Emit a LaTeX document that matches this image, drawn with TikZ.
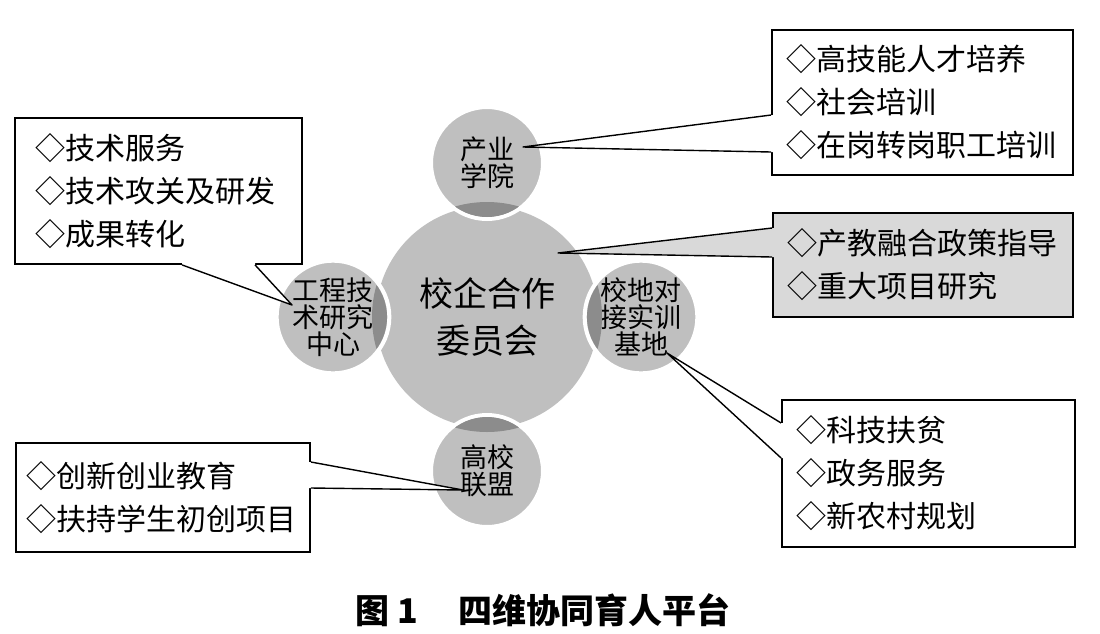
\documentclass[tikz,border=0pt]{standalone}
\usepackage{fontspec}
\newfontfamily\cjk{Noto Sans CJK SC}
\definecolor{disc}{gray}{0.75}
\definecolor{lens}{gray}{0.55}
\definecolor{panel}{gray}{0.85}

\begin{document}
\begin{tikzpicture}[x=1pt, y=-1pt, node distance={154pt},
  hub/.style = {circle, fill=disc, minimum size=222pt, inner sep=0pt, align=center, font=\cjk\fontsize{34}{47}\selectfont},
  sat/.style = {circle, fill=disc, draw=white, line width=4pt, minimum size=112pt, inner sep=0pt, align=center, font=\cjk\fontsize{27}{27}\selectfont},
  box/.style = {draw, line width=1.8pt, fill=white, align=left, inner xsep=14pt, font=\cjk\fontsize{30}{43}\selectfont},
  tail/.style = {line width=1.4pt, line join=round}]
\useasboundingbox (0,0) rectangle (1100,633);

% committee and its four satellites
\node[hub] (hub) at (487,317) {校企合作\\委员会};
\node[sat] (yard) [above of=hub] {产业\\学院};
\node[sat] (lab) [left of=hub] {工程技\\术研究\\中心};
\node[sat] (base) [right of=hub] {校地对\\接实训\\基地};
\node[sat] (league) [below of=hub] {高校\\联盟};
\begin{scope}
  \clip (hub.center) circle (115pt);
  \foreach \s in {yard, lab, base, league}
    \fill[lens] (\s.center) circle (54pt);
\end{scope}

% callout boxes
\node[box, text width=273pt, minimum height=145pt] (talent) at (922.5,102.5) {◇高技能人才培养\\◇社会培训\\◇在岗转岗职工培训};
\node[box, fill=panel, text width=272pt, minimum height=104pt] (policy) at (923,265) {◇产教融合政策指导\\◇重大项目研究};
\node[box, text width=265pt, minimum height=147pt] (rural) at (928.5,473.5) {◇科技扶贫\\◇政务服务\\◇新农村规划};
\node[box, inner xsep=20pt, text width=247pt, minimum height=146pt] (tech) at (158.5,191) {◇技术服务\\◇技术攻关及研发\\◇成果转化};
\node[box, inner xsep=11pt, text width=272pt, minimum height=109pt] (startup) at (163,497.5) {◇创新创业教育\\◇扶持学生初创项目};

% pointers
\coordinate (talenttip) at (523,147);
\coordinate (talenta) at ([yshift=-12.5pt]talent.west);
\coordinate (talentb) at ([yshift=-49.5pt]talent.west);
\fill[white] (talenta) -- (talenttip) -- (talentb) -- ([xshift=2.2pt]talentb) -- ([xshift=2.2pt]talenta) -- cycle;
\draw[tail] (talenta) -- (talenttip) -- (talentb);

\coordinate (policytip) at (558,253);
\coordinate (policya) at ([yshift=37pt]policy.west);
\coordinate (policyb) at ([yshift=8pt]policy.west);
\fill[panel] (policya) -- (policytip) -- (policyb) -- ([xshift=2.2pt]policyb) -- ([xshift=2.2pt]policya) -- cycle;
\draw[tail] (policya) -- (policytip) -- (policyb);

\coordinate (ruraltip) at (667,353);
\coordinate (rurala) at ([yshift=50.5pt]rural.west);
\coordinate (ruralb) at ([yshift=15.5pt]rural.west);
\fill[white] (rurala) -- (ruraltip) -- (ruralb) -- ([xshift=2.2pt]ruralb) -- ([xshift=2.2pt]rurala) -- cycle;
\draw[tail] (rurala) -- (ruraltip) -- (ruralb);

\coordinate (techtip) at (292,305);
\coordinate (techa) at ([xshift=23.5pt]tech.south);
\coordinate (techb) at ([xshift=96.5pt]tech.south);
\fill[white] (techa) -- (techtip) -- (techb) -- ([yshift=2.2pt]techb) -- ([yshift=2.2pt]techa) -- cycle;
\draw[tail] (techa) -- (techtip) -- (techb);

\coordinate (startuptip) at (463,490);
\coordinate (startupa) at ([yshift=35.5pt]startup.east);
\coordinate (startupb) at ([yshift=9.5pt]startup.east);
\fill[white] (startupa) -- (startuptip) -- (startupb) -- ([xshift=-2.2pt]startupb) -- ([xshift=-2.2pt]startupa) -- cycle;
\draw[tail] (startupa) -- (startuptip) -- (startupb);

\node[font=\cjk\bfseries\fontsize{34}{34}\selectfont] (caption) at (543,610) {图\hspace{0.25em}1\hspace{1.2em}四维协同育人平台};
\end{tikzpicture}
\end{document}
